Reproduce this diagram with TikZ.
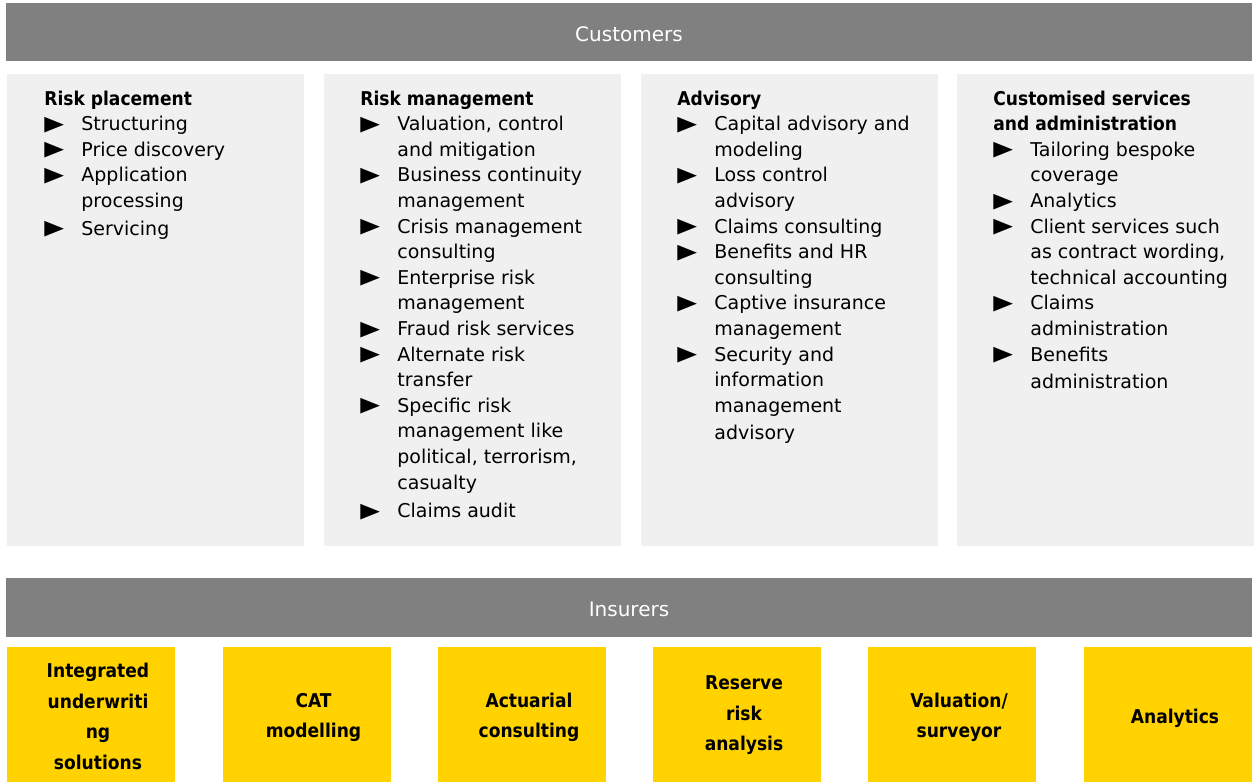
\documentclass[tikz,border=0pt]{standalone}
\usepackage{fontspec}
\setmainfont{DejaVu Sans}[BoldFont=DejaVu Sans Condensed Bold]
\usepackage{array,graphicx}
\usetikzlibrary{positioning}
\definecolor{bargray}{RGB}{128,128,128}
\definecolor{panegray}{RGB}{240,240,240}
\definecolor{eyyellow}{RGB}{255,210,0}
\newcommand{\bul}{\raisebox{0.2pt}{\scalebox{1.35}[1.08]{▶}}}
\newcommand{\head}[1]{\multicolumn{2}{@{}l@{}}{\textbf{#1}}}

\begin{document}
\begin{tikzpicture}[
    x=0.5pt, y=-0.5pt,
    every node/.style={font=\fontsize{9.5}{12.8}\selectfont, inner sep=0pt},
    bar/.style={fill=bargray, text=white, minimum width=623pt, minimum height=29pt,
      text height=9.3pt, text depth=0pt, font=\fontsize{10}{12}\selectfont},
    pane/.style={fill=panegray, minimum width=148.5pt, minimum height=236pt},
    list/.style={anchor=base west},
    tile/.style={fill=eyyellow, minimum width=84pt, minimum height=67.5pt},
    tiletext/.style={align=center, font=\fontsize{9.5}{15.3}\selectfont\bfseries},
]
  \useasboundingbox (0,0) rectangle (1254,782);

  % Customers
  \node[bar] (cust) at (629,32) {Customers};

  % Panes
  \node[pane] (p1) at (155.5,310) {};
  \node[pane] (p2) at (472.5,310) {};
  \node[pane] (p3) at (789.5,310) {};
  \node[pane] (p4) at (1105.5,310) {};

  % Risk placement
  \node[list] (rp) at (44,105) {\begin{tabular}[t]{@{}p{18.5pt}@{}l@{}}
    \head{Risk placement}\\
    \bul & Structuring\\
    \bul & Price discovery\\
    \bul & Application\\
         & processing\\[1pt]
    \bul & Servicing
  \end{tabular}};

  % Risk management
  \node[list] (rm) at (360,105) {\begin{tabular}[t]{@{}p{18.5pt}@{}l@{}}
    \head{Risk management}\\
    \bul & Valuation, control\\
         & and mitigation\\
    \bul & Business continuity\\
         & management\\
    \bul & Crisis management\\
         & consulting\\
    \bul & Enterprise risk\\
         & management\\
    \bul & Fraud risk services\\
    \bul & Alternate risk\\
         & transfer\\
    \bul & Specific risk\\
         & management like\\
         & political, terrorism,\\
         & casualty\\[1.5pt]
    \bul & Claims audit
  \end{tabular}};

  % Advisory
  \node[list] (adv) at (677,105) {\begin{tabular}[t]{@{}p{18.5pt}@{}l@{}}
    \head{Advisory}\\
    \bul & Capital advisory and\\
         & modeling\\
    \bul & Loss control\\
         & advisory\\
    \bul & Claims consulting\\
    \bul & Benefits and HR\\
         & consulting\\
    \bul & Captive insurance\\
         & management\\
    \bul & Security and\\
         & information\\
         & management\\[1pt]
         & advisory
  \end{tabular}};

  % Customised services
  \node[list] (cs) at (993,105) {\begin{tabular}[t]{@{}p{18.5pt}@{}l@{}}
    \head{Customised services}\\
    \head{and administration}\\
    \bul & Tailoring bespoke\\
         & coverage\\
    \bul & Analytics\\
    \bul & Client services such\\
         & as contract wording,\\
         & technical accounting\\
    \bul & Claims\\
         & administration\\
    \bul & Benefits\\[1pt]
         & administration
  \end{tabular}};

  % Insurers
  \node[bar, minimum height=29.5pt] (ins) at (629,607.5) {Insurers};

  % Tiles
  \node[tile] (t1) at (91,714.5) {};
  \node[tile] (t2) at (306.5,714.5) {};
  \node[tile] (t3) at (522,714.5) {};
  \node[tile] (t4) at (737,714.5) {};
  \node[tile] (t5) at (952,714.5) {};
  \node[tile] (t6) at (1168,714.5) {};

  \node[tiletext] at ([xshift=3.5pt,yshift=-1pt]t1.center) {Integrated\\underwriti\\ng\\solutions};
  \node[tiletext] at ([xshift=3.5pt,yshift=-1.5pt]t2.center) {CAT\\modelling};
  \node[tiletext] at ([xshift=3.5pt,yshift=-1.5pt]t3.center) {Actuarial\\consulting};
  \node[tiletext] at ([xshift=3.5pt,yshift=-0.5pt]t4.center) {Reserve\\risk\\analysis};
  \node[tiletext] at ([xshift=3.5pt,yshift=-1.5pt]t5.center) {Valuation/\\surveyor};
  \node[tiletext] at ([xshift=3.5pt,yshift=-2pt]t6.center) {Analytics};
\end{tikzpicture}
\end{document}
